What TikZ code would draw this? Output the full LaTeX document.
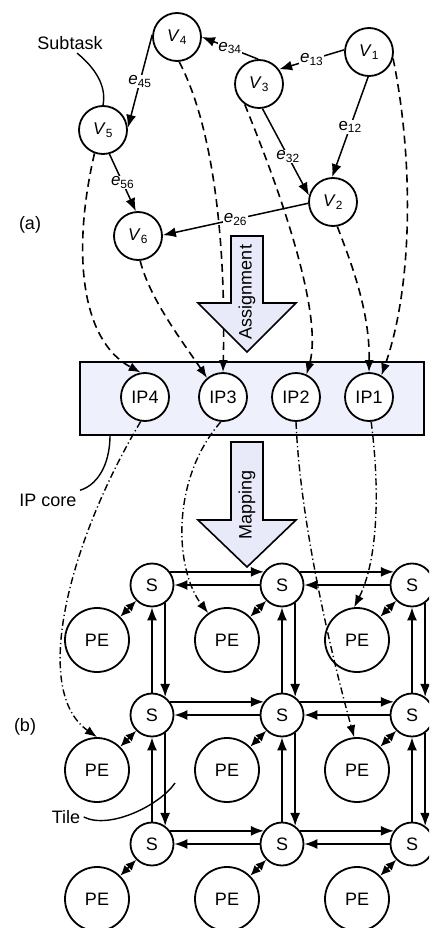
\documentclass[tikz,border=0pt]{standalone}
\usepackage{fontspec}
\setmainfont{Liberation Sans}
\usepackage{xcolor}
\usepackage{tikz}
\usetikzlibrary{arrows.meta}
\definecolor{ipfill}{RGB}{238,240,252}
\definecolor{arrowfill}{RGB}{232,234,250}
\tikzstyle{task} = [circle, draw=black, line width=1.8pt, fill=white, minimum size=48pt, inner sep=0pt, font=\fontsize{17}{20}\selectfont]
\tikzstyle{ipcore} = [circle, draw=black, line width=1.8pt, fill=white, minimum size=48pt, inner sep=0pt]
\tikzstyle{switch} = [circle, draw=black, line width=1.8pt, fill=white, minimum size=43pt, inner sep=0pt]
\tikzstyle{pe} = [circle, draw=black, line width=1.8pt, fill=white, minimum size=64pt, inner sep=0pt]
\tikzstyle{dep} = [line width=1.5pt, -{Latex[length=13pt,width=10pt]}]
\tikzstyle{assign} = [line width=1.6pt, dash pattern=on 8pt off 5pt, -{Latex[length=12pt,width=9pt]}]
\tikzstyle{mapto} = [line width=1.4pt, dash pattern=on 7pt off 3pt on 1.2pt off 3pt, -{Latex[length=12pt,width=9pt]}]
\tikzstyle{link} = [line width=1.6pt, -{Latex[length=13pt,width=10pt]}]
\tikzstyle{pelink} = [line width=1.6pt, {Latex[length=10.5pt,width=9pt]}-{Latex[length=10.5pt,width=9pt]}]
\tikzstyle{lab} = [fill=white, inner sep=0.8pt, font=\fontsize{17}{20}\selectfont]
\tikzstyle{bigarrow} = [draw=black, line width=1.6pt, fill=arrowfill]
\tikzstyle{callout} = [line width=1.4pt]
\newcommand{\vtask}[1]{\textit{V}\textsubscript{#1}}
\newcommand{\etag}[1]{\textit{e}\textsubscript{#1}}

\begin{document}
\begin{tikzpicture}[x=1pt, y=-1pt, font=\fontsize{18}{21}\selectfont]
            \clip (0,0) rectangle (429,928);

            % (a) task graph
            \node[task] (v1) at (369,52) {\vtask{1}};
            \node[task] (v2) at (333,202) {\vtask{2}};
            \node[task] (v3) at (259,84) {\vtask{3}};
            \node[task] (v4) at (177,37) {\vtask{4}};
            \node[task] (v5) at (103,130) {\vtask{5}};
            \node[task] (v6) at (138,236) {\vtask{6}};
            \node (subtask) at (70,43) {Subtask};
            \node (parta) at (30,225) {(a)};
            \node (partb) at (25,727) {(b)};

            % IP cores
            \node[draw=black, line width=1.6pt, fill=ipfill, minimum width=344pt, minimum height=73pt] (ipbox) at (252,398.5) {};
            \node[ipcore] (ip4) at (145,397) {IP4};
            \node[ipcore] (ip3) at (223,397) {IP3};
            \node[ipcore] (ip2) at (296,397) {IP2};
            \node[ipcore] (ip1) at (369,397) {IP1};
            \node (iplab) at (48,500) {IP core};
            \coordinate (ipcall) at (110,435);

            % (b) mesh of tiles
            \foreach \row/\y in {1/585,2/715,3/844} {
                \foreach \col/\x in {1/152,2/282,3/412} {
                    \node[switch] (s\row\col) at (\x,\y) {S};
                    \node[pe] (pe\row\col) at (\x-55,\y+55) {PE};
                    \draw[pelink] (pe\row\col.45) -- (s\row\col.225);
                }
            }
            \foreach \row in {1,2,3} {
                \foreach \a/\b in {1/2,2/3} {
                    \draw[link] (s\row\a.36) -- (s\row\b.144);
                    \draw[link] (s\row\b.180) -- (s\row\a.0);
                }
            }
            \foreach \col in {1,2,3} {
                \foreach \a/\b in {1/2,2/3} {
                    \draw[link] (s\b\col.90) -- (s\a\col.270);
                    \draw[link] (s\a\col.-54) -- (s\b\col.54);
                }
            }
            \node (tile) at (66,817) {Tile};
            \coordinate (tilept) at (175,783);

            % assignment
            \draw[assign] (v5.250) .. controls (72,250) and (80,340) .. (ip4.100);
            \draw[assign] (v4.275) .. controls (215,130) and (226,250) .. (ip3.north);
            \draw[assign] (v6.275) .. controls (150,300) and (185,345) .. (ip3.130);
            \draw[assign] (v3.235) .. controls (290,215) and (322,320) .. (ip2.65);
            \draw[assign] (v2.280) .. controls (350,260) and (370,310) .. (ip1.north);
            \draw[assign] (v1.-15) .. controls (412,150) and (415,280) .. (ip1.60);

            \draw[dep] (v1.175) -- node[lab] {\etag{13}} (v3.36);
            \draw[dep] (v3.92) -- node[lab] {\etag{34}} (v4.0);
            \draw[dep] (v4.175) -- node[lab] {\etag{45}} (v5.5);
            \draw[dep] (v5.285) -- node[lab] {\etag{56}} (v6.95);
            \draw[dep] (v1.268) -- node[lab] {e\textsubscript{12}} (v2.92);
            \draw[dep] (v3.278) -- node[lab, pos=.55] {\etag{32}} (v2.165);
            \draw[dep] (v2.183) -- node[lab] {\etag{26}} (v6.2);

            % mapping
            \draw[mapto] (ip4.260) .. controls (70,540) and (30,690) .. (pe21.north);
            \draw[mapto] (ip3.265) .. controls (170,480) and (175,570) .. (pe12.125);
            \draw[mapto] (ip2.south) .. controls (300,520) and (330,650) .. (pe23.95);
            \draw[mapto] (ip1.275) .. controls (380,490) and (378,560) .. (pe13.95);

            \draw[bigarrow] (231,236) -- (263,236) -- (263,303) -- (296,303) -- (247,352) -- (198,303) -- (231,303) -- cycle;
            \node[rotate=90] (assigntxt) at (247,292) {Assignment};
            \draw[bigarrow] (231,442) -- (263,442) -- (263,520) -- (296,520) -- (247,567) -- (198,520) -- (231,520) -- cycle;
            \node[rotate=90] (maptxt) at (247,505) {Mapping};

            \draw[callout] (subtask.-55) .. controls (100,72) and (106,90) .. (v5.north);
            \draw[callout] (ipcall) .. controls (110,468) and (95,486) .. (iplab.north east);
            \draw[callout] (tile.east) .. controls (110,830) and (160,805) .. (tilept);
        \end{tikzpicture}
\end{document}
